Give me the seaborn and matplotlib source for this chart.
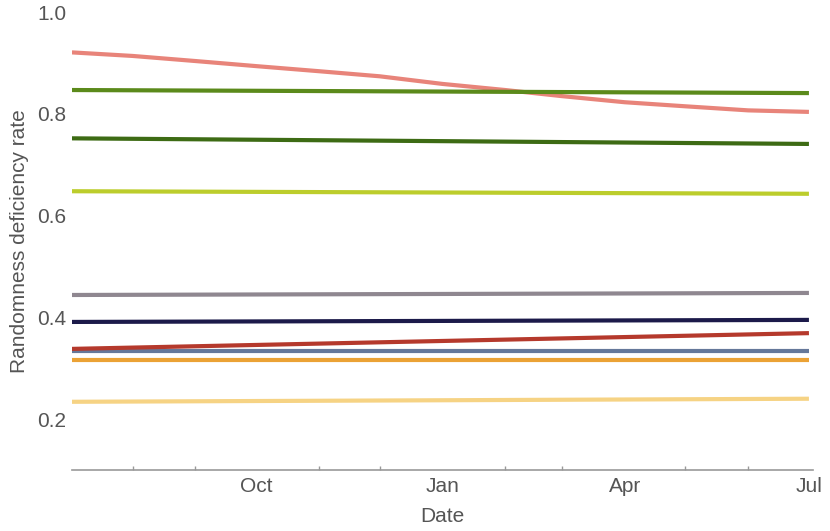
import pandas as pd
import matplotlib.pyplot as plt
import matplotlib.dates as mdates
import seaborn as sns

# dates: monthly points for the curved series, start/end for the flat ones
month_dates = ["2016-07-02", "2016-08-01", "2016-09-01", "2016-10-01", "2016-11-01",
               "2016-12-01", "2017-01-01", "2017-02-01", "2017-03-01", "2017-04-01",
               "2017-05-01", "2017-06-01", "2017-07-01"]
end_dates = ["2016-07-02", "2017-07-01"]

# series values
salmon = [0.921, 0.914, 0.904, 0.894, 0.884, 0.874, 0.859, 0.847, 0.835, 0.823, 0.815, 0.807, 0.804]
olive = [0.847, 0.841]
dark_green = [0.752, 0.741]
yellow_green = [0.648, 0.643]
grey = [0.444, 0.448]
navy = [0.391, 0.395]
slate = [0.334, 0.334]
red = [0.338, 0.369]
orange = [0.316, 0.316]
light_yellow = [0.234, 0.240]

y_ticks = [0.2, 0.4, 0.6, 0.8, 1.0]

sns.set_style("white")
plt.rcParams['font.family'] = ['Liberation Sans', 'DejaVu Sans']

fig = plt.figure(figsize=(8.3, 5.31), dpi=100)
ax = fig.add_axes([0.0867, 0.115, 0.9795 - 0.0867, 0.977 - 0.115])

series = [
    (month_dates, salmon, "#E8847A"),
    (end_dates, olive, "#5B8A1B"),
    (end_dates, dark_green, "#3D6B14"),
    (end_dates, yellow_green, "#BCCD2C"),
    (end_dates, grey, "#8F8790"),
    (end_dates, navy, "#1C1A4A"),
    (end_dates, slate, "#65789A"),
    (end_dates, red, "#B5392C"),
    (end_dates, orange, "#EBA235"),
    (end_dates, light_yellow, "#F6D384"),
]
for dates, vals, col in series:
    sns.lineplot(x=pd.to_datetime(dates), y=vals, color=col, linewidth=3,
                 solid_capstyle='butt', ax=ax)

ax.set_xlim(pd.Timestamp("2016-07-02"), pd.Timestamp("2017-07-03"))
ax.set_ylim(0.1, 1.0)

ax.set_yticks(y_ticks)
ax.set_yticklabels([f"{t:.1f}" for t in y_ticks])
ax.xaxis.set_major_locator(mdates.MonthLocator(bymonth=[1, 4, 7, 10]))
ax.xaxis.set_major_formatter(mdates.DateFormatter("%b"))
ax.xaxis.set_minor_locator(mdates.MonthLocator())

ax.tick_params(axis='y', length=0, pad=4, labelsize=15, labelcolor="#555555")
ax.tick_params(axis='x', which='both', direction='in', length=3, width=1,
               color="#999999", pad=5, labelsize=15, labelcolor="#555555")
ax.tick_params(axis='x', which='minor', bottom=True)

for side in ['left', 'right', 'top']:
    ax.spines[side].set_visible(False)
ax.spines['bottom'].set_color("#999999")
ax.spines['bottom'].set_linewidth(1.2)

ax.set_xlabel("Date", fontsize=15, color="#555555", labelpad=8)
ax.set_ylabel("Randomness deficiency rate", fontsize=15, color="#555555", labelpad=6)

fig.savefig("out.png", dpi=100)
